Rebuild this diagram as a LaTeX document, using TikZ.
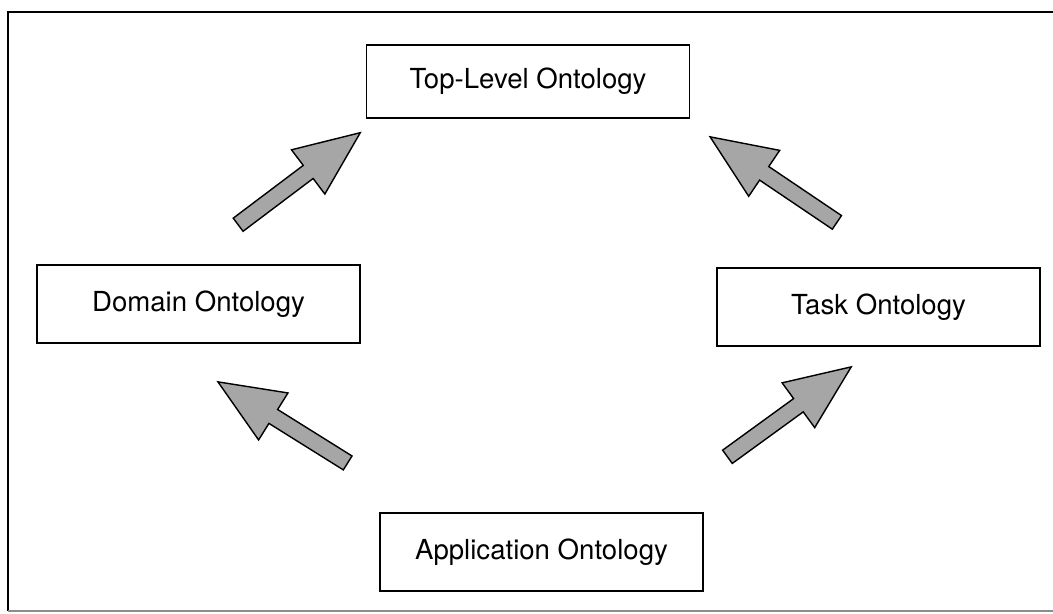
\documentclass[tikz,border=0pt]{standalone}
\usepackage{fontspec}
\setmainfont{TeX Gyre Heros}
\usetikzlibrary{positioning,shapes.arrows}

\tikzset{
  onto/.style={draw, line width=0.7pt, minimum width=6.46cm, minimum height=1.56cm,
    inner sep=0pt, font=\fontsize{15.7}{19}\selectfont},
  blockarrow/.style={single arrow, draw, line width=0.8pt, fill=black!35,
    minimum height=3.06cm, minimum width=0pt, inner sep=0.15cm,
    single arrow head extend=0.39cm, single arrow tip angle=46}
}

\begin{document}
\begin{tikzpicture}[x=0.02cm, y=-0.02cm]
  \useasboundingbox (0,0) rectangle (1053,613);
  % frame
  \draw[line width=0.9pt] (1053,12) -- (8,12) -- (8,611);
  \draw[line width=0.6pt, black!45] (8,611) -- (1053,611);

  % ontologies
  \node[onto, minimum height=1.46cm] (top) at (528,81.5) {Top-Level Ontology};
  \node[onto] (dom) at (198.5,304) {Domain Ontology};
  \node[onto] (task) at (878.5,307) {Task Ontology};
  \node[onto] (app) at (541.5,552) {Application Ontology};

  % block arrows
  \node[blockarrow, rotate=37] (domtop) at (291.5,184.5) {};
  \node[blockarrow, rotate=146] (tasktop) at (781.5,185) {};
  \node[blockarrow, rotate=148] (appdom) at (291,427.5) {};
  \node[blockarrow, rotate=36] (apptask) at (781.5,417.5) {};
\end{tikzpicture}
\end{document}
